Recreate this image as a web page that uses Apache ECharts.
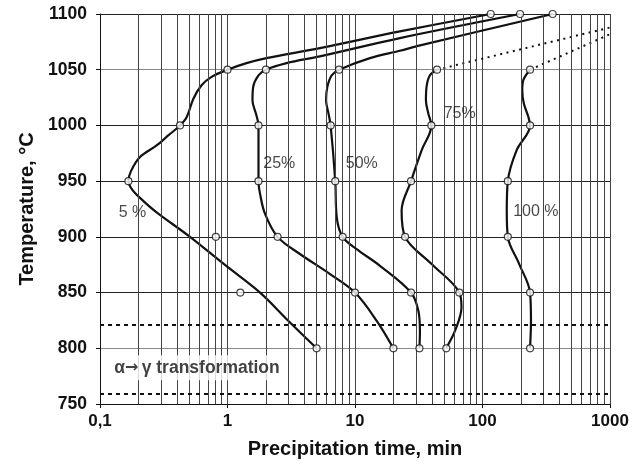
<!DOCTYPE html>
<html>
<head>
<meta charset="utf-8">
<script src="https://cdn.jsdelivr.net/npm/echarts@6/dist/echarts.min.js"></script>
<style>
html,body{margin:0;padding:0;background:#fff;}
#chart{width:644px;height:467px;}
</style>
</head>
<body>
<div id="chart"></div>
<script>
// ---- data ----
const temps = [800, 850, 900, 950, 1000, 1050, 1100];
const meas5   = [5.0, 1.26, 0.81, 0.167, 0.424, 1.0, 116];
const meas25  = [20, 10, 2.47, 1.75, 1.75, 2.0, 197];
const meas50  = [32, 27.5, 8.0, 7.0, 6.44, 7.5, 355];
const meas75  = [52, 65.8, 24.7, 27.5, 39.7, 44, null];
const meas100 = [236, 236, 158, 158, 236, 236, null];

// traced curves [time, temperature]
const curve5 = [[5.0,800],[2.98,825],[1.8,850],[0.95,875],[0.508,900],[0.278,922],[0.215,933],[0.180,942],[0.167,950],
  [0.175,959],[0.206,971.6],[0.278,982],[0.343,991],[0.424,1000],[0.479,1007.6],[0.54,1024],[0.626,1036],[0.75,1043.6],
  [1.0,1050],[1.41,1055.9],[2.02,1060.4],[5.3,1069.4],[22.5,1084.4],[116,1100]];
const curve25 = [[20,800],[14.8,824.6],[10,850],[6.37,866.6],[3.7,884.6],[2.47,900],[1.97,920.6],[1.8,938.6],[1.75,950],
  [1.75,1000],[1.67,1010.6],[1.57,1022.6],[1.59,1034.6],[1.75,1045],[2.0,1050],[2.91,1055.9],[5.3,1062],[22.5,1078.4],[197,1100]];
const curve50 = [[32,800],[32.3,815],[31.4,833.6],[27.5,850],[15.7,874],[10.3,889],[8.0,900],[7.2,917],[7.0,950],
  [6.44,1000],[6.2,1010.6],[5.93,1022.6],[6.07,1034.6],[6.56,1045],[7.5,1050],[13.1,1060.4],[22.5,1067],[32.4,1071.8],[355,1100]];
const curve75 = [[51.8,800],[60.8,815.6],[68.4,836.5],[65.8,850],[39.9,875.6],[24.7,900],[23.2,923.6],[27.5,950],
  [33.3,977.6],[39.7,1000],[37.6,1010.6],[36.0,1022.6],[36.4,1034.6],[38.7,1045],[44,1050]];
const curve100 = [[236,800],[240,824.6],[236,850],[194,875.6],[158,900],[155,923.6],[158,950],[185,977.6],[236,1000],
  [229,1007.6],[211,1019.6],[205,1031.6],[209,1040.6],[236,1050]];
const dotted75 = [[44,1050],[1062,1088.6]];
const dotted100 = [[236,1050],[1094,1083.8]];

const transformTemps = [821, 759];
const xTickLabels = ['0,1', '1', '10', '100', '1000'];
const curveLabels = ['5 %', '25%', '50%', '75%', '100 %'];
const curveLabelAt = [[0.18,922],[2.55,965.6],[11.3,965.6],[66.2,1010.6],[262,922.9]];
const transformAt = [0.104, 782.5];

// minor gridline values 2..9 of each decade
const minorGrid = [];
[0.1, 1, 10, 100].forEach(d => { for (let k = 2; k <= 9; k++) minorGrid.push(+(d * k).toPrecision(3)); });

const FONT = 'Liberation Sans, Arial, sans-serif';
const LINE = '#111';

function pairs(vals) {
  const out = [];
  vals.forEach((v, i) => { if (v != null) out.push([v, temps[i]]); });
  return out;
}
function curveSeries(data) {
  return { type: 'line', data: data, smooth: 0.35, showSymbol: false, z: 3,
    lineStyle: { color: LINE, width: 2.2 }, silent: true, animation: false };
}
function dotSeries(data) {
  return { type: 'line', data: data, smooth: false, showSymbol: false, clip: false, z: 3,
    lineStyle: { color: LINE, width: 2, type: [2, 4.5] }, silent: true, animation: false };
}
function markerSeries(vals) {
  return { type: 'scatter', data: pairs(vals), symbol: 'circle', symbolSize: 7, z: 5,
    itemStyle: { color: '#fff', borderColor: LINE, borderWidth: 1.2 }, silent: true, animation: false };
}

const chart = echarts.init(document.getElementById('chart'), null, { renderer: 'canvas' });
chart.setOption({
  backgroundColor: '#fff',
  animation: false,
  grid: { left: 100, right: 34, top: 14, bottom: 63, containLabel: false },
  xAxis: {
    type: 'log', logBase: 10, min: 0.1, max: 1000,
    name: 'Precipitation time, min', nameLocation: 'middle', nameGap: 35,
    nameTextStyle: { fontFamily: FONT, fontWeight: 'bold', fontSize: 20, color: '#111' },
    axisLine: { show: true, onZero: false, lineStyle: { color: '#111', width: 1 } },
    axisTick: { show: true, length: 4, inside: false, lineStyle: { color: '#111' } },
    axisLabel: { fontFamily: FONT, fontWeight: 'bold', fontSize: 17, color: '#111', margin: 9,
      formatter: v => xTickLabels[Math.round(Math.log10(v)) + 1] },
    splitLine: { show: true, lineStyle: { color: '#444', width: 1 } },
    minorTick: { show: false }, minorSplitLine: { show: false }
  },
  yAxis: {
    type: 'value', min: 750, max: 1100, interval: 50,
    name: 'Temperature, °C', nameLocation: 'middle', nameGap: 57,
    nameTextStyle: { fontFamily: FONT, fontWeight: 'bold', fontSize: 20, color: '#111' },
    axisLine: { show: true, lineStyle: { color: '#111', width: 1 } },
    axisTick: { show: true, length: 4, lineStyle: { color: '#111' } },
    axisLabel: { fontFamily: FONT, fontWeight: 'bold', fontSize: 17.5, color: '#111', margin: 13,
      formatter: v => String(v) },
    splitLine: { show: true, lineStyle: { color: ['#222', '#888', '#222', '#222', '#222', '#222', '#888', '#222'], width: 1 } }
  },
  series: [
    { type: 'line', data: [[0.1, 750]], showSymbol: false, lineStyle: { opacity: 0 }, z: 1, silent: true,
      markLine: { silent: true, symbol: ['none', 'none'], label: { show: false }, animation: false,
        lineStyle: { color: '#444', width: 1, type: 'solid' },
        data: minorGrid.map(v => ({ xAxis: v })) } },
    { type: 'line', data: [[0.1, 750]], showSymbol: false, lineStyle: { opacity: 0 }, z: 2, silent: true,
      markLine: { silent: true, symbol: ['none', 'none'], label: { show: false }, animation: false,
        lineStyle: { color: '#111', width: 2, type: [4, 4] },
        data: transformTemps.map(t => ({ yAxis: t })) } },
    curveSeries(curve5), curveSeries(curve25), curveSeries(curve50), curveSeries(curve75), curveSeries(curve100),
    dotSeries(dotted75), dotSeries(dotted100),
    markerSeries(meas5), markerSeries(meas25), markerSeries(meas50), markerSeries(meas75), markerSeries(meas100),
    { type: 'scatter', symbolSize: 0, z: 6, silent: true,
      data: curveLabels.map((t, i) => ({ value: curveLabelAt[i], name: t })),
      label: { show: true, position: 'inside', formatter: p => p.name,
        fontFamily: FONT, fontSize: 16, color: '#1a1a1a' } },
    { type: 'scatter', symbolSize: 0, z: 6, silent: true,
      data: [{ value: transformAt, name: 'transform' }],
      label: { show: true, position: 'right', distance: 0,
        formatter: '{t|α}{a|→} {t|γ transformation}',
        backgroundColor: '#fff', padding: [4, 6, 3, 12],
        rich: {
          t: { fontFamily: FONT, fontWeight: 'bold', fontSize: 17.5, color: '#111' },
          a: { fontFamily: 'DejaVu Sans', fontWeight: 'bold', fontSize: 16, color: '#111' }
        } } }
  ]
});
</script>
</body>
</html>
